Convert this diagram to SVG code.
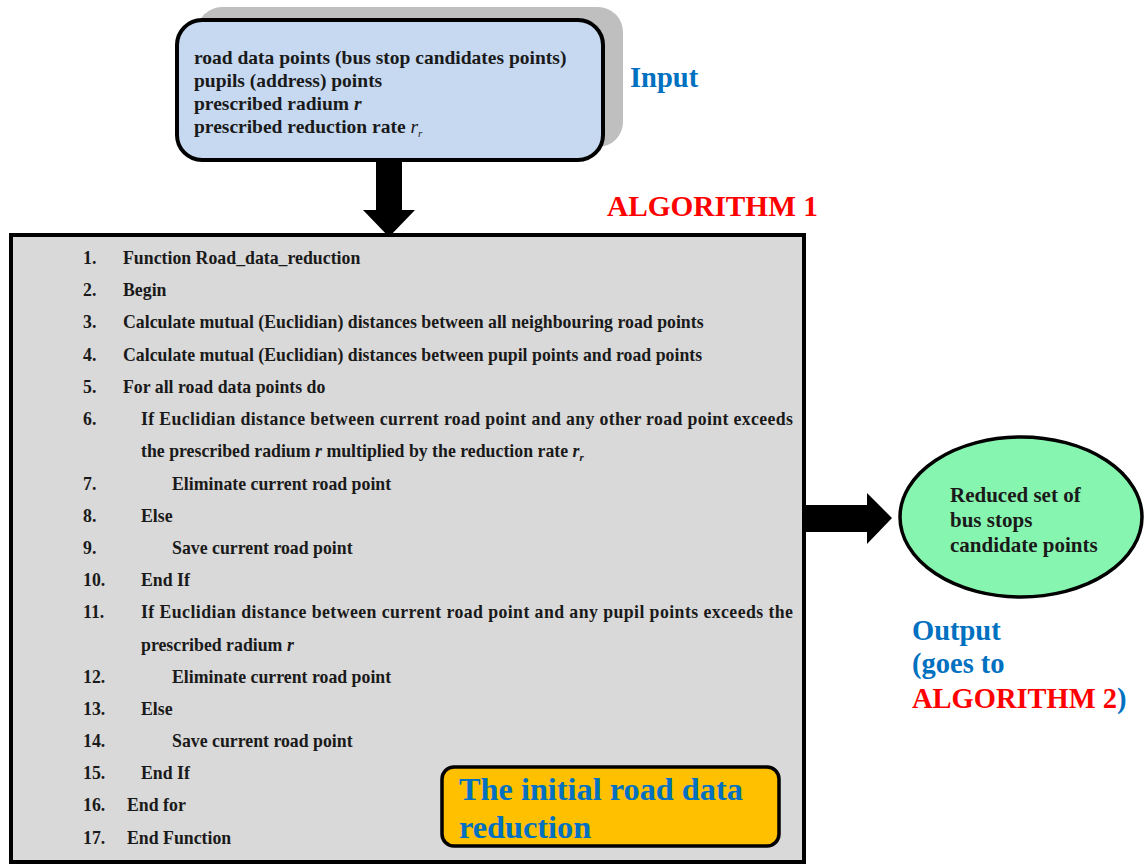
<svg xmlns="http://www.w3.org/2000/svg" width="1144" height="864" viewBox="0 0 1144 864">
<style>
text{font-family:"Liberation Serif","Times New Roman",serif;font-weight:bold;}
.b{fill:#1a1a1a;}
.blue{fill:#0070c0;}
.red{fill:#ff0000;}
.it{font-style:italic;}
.lst{font-size:17.8px;fill:#1a1a1a;}
.inp{font-size:19.5px;fill:#1a1a1a;}
.big{font-size:28.5px;}
</style>
<rect width="1144" height="864" fill="#ffffff"/>
<g id="input">
<rect x="197" y="7" width="426" height="140" rx="25" fill="#bfbfbf"/>
<rect x="177" y="20" width="426" height="140" rx="25" fill="#c6d9f1" stroke="#000" stroke-width="4"/>
<text class="inp" x="194" y="64">road data points (bus stop candidates points)</text>
<text class="inp" x="194" y="87">pupils (address) points</text>
<text class="inp" x="194" y="110">prescribed radium <tspan class="it">r</tspan></text>
<text class="inp" x="194" y="133">prescribed reduction rate <tspan class="it" font-weight="normal">r</tspan><tspan class="it" font-weight="normal" font-size="11" dy="4">r</tspan></text>
</g>
<g id="input-label"><text class="big blue" x="630" y="87">Input</text></g>
<g id="algo1-label"><text class="red" font-size="29.3" x="607" y="216">ALGORITHM 1</text></g>
<g id="algorithm">
<rect x="11" y="235" width="793" height="627" fill="#d9d9d9" stroke="#000" stroke-width="4"/>
<g class="lst">
<text x="83" y="264">1.</text><text x="123" y="264">Function Road_data_reduction</text>
<text x="83" y="296">2.</text><text x="123" y="296">Begin</text>
<text x="83" y="328">3.</text><text x="123" y="328">Calculate mutual (Euclidian) distances between all neighbouring road points</text>
<text x="83" y="361">4.</text><text x="123" y="361">Calculate mutual (Euclidian) distances between pupil points and road points</text>
<text x="83" y="393">5.</text><text x="123" y="393">For all road data points do</text>
<text x="83" y="425">6.</text><text x="141" y="425" textLength="652" lengthAdjust="spacing">If Euclidian distance between current road point and any other road point exceeds</text>
<text x="141" y="457">the prescribed radium <tspan class="it">r</tspan> multiplied by the reduction rate <tspan class="it">r</tspan><tspan class="it" font-size="11" dy="4">r</tspan></text>
<text x="83" y="490">7.</text><text x="172" y="490">Eliminate current road point</text>
<text x="83" y="522">8.</text><text x="141" y="522">Else</text>
<text x="83" y="554">9.</text><text x="172" y="554">Save current road point</text>
<text x="83" y="586">10.</text><text x="141" y="586">End If</text>
<text x="83" y="618">11.</text><text x="141" y="618" textLength="652" lengthAdjust="spacing">If Euclidian distance between current road point and any pupil points exceeds the</text>
<text x="141" y="651">prescribed radium <tspan class="it">r</tspan></text>
<text x="83" y="683">12.</text><text x="172" y="683">Eliminate current road point</text>
<text x="83" y="715">13.</text><text x="141" y="715">Else</text>
<text x="83" y="747">14.</text><text x="172" y="747">Save current road point</text>
<text x="83" y="779">15.</text><text x="141" y="779">End If</text>
<text x="83" y="811">16.</text><text x="127" y="811">End for</text>
<text x="83" y="844">17.</text><text x="127" y="844">End Function</text>
</g>
</g>
<g id="title-box">
<rect x="442" y="767" width="337" height="79" rx="12" fill="#ffc000" stroke="#000" stroke-width="3.5"/>
<text class="blue" font-size="32.3" x="459" y="800">The initial road data</text>
<text class="blue" font-size="32.3" x="459" y="838">reduction</text>
</g>
<g id="output">
<ellipse cx="1021" cy="517" rx="121" ry="80" fill="#86f5b0" stroke="#000" stroke-width="3.5"/>
<text class="b" font-size="21" x="950" y="502">Reduced set of</text>
<text class="b" font-size="21" x="950" y="527">bus stops</text>
<text class="b" font-size="21" x="950" y="552">candidate points</text>
</g>
<g id="output-label">
<text class="big blue" x="912" y="640">Output</text>
<text class="big blue" x="912" y="673">(goes to</text>
<text class="big" x="912" y="708"><tspan class="red">ALGORITHM 2</tspan><tspan class="blue">)</tspan></text>
</g>
<g id="connectors" fill="#000">
<polygon points="376,160 402,160 402,210 415,210 389,237 363,210 376,210"/>
<polygon points="806,505 867,505 867,493 892,518 867,544 867,532 806,532"/>
</g>
</svg>
